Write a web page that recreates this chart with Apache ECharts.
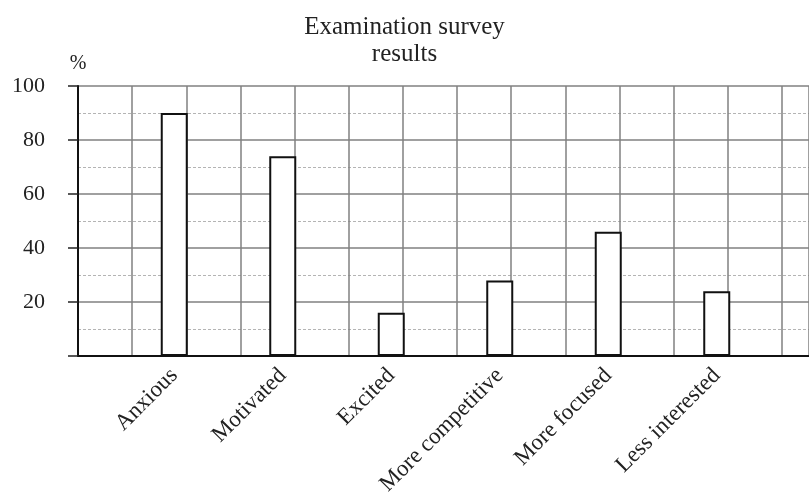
<!DOCTYPE html>
<html>
<head>
<meta charset="utf-8">
<script src="https://cdn.jsdelivr.net/npm/echarts@6/dist/echarts.min.js"></script>
<style>
html,body{margin:0;padding:0;background:#fff;}
#chart{width:809px;height:501px;}
</style>
</head>
<body>
<div id="chart"></div>
<script>
const categories = ['Anxious', 'Motivated', 'Excited', 'More competitive', 'More focused', 'Less interested'];
const values = [90, 74, 16, 28, 46, 24];
const yTicks = [0, 20, 40, 60, 80, 100];
const titleText = 'Examination survey\nresults';
const yUnit = '%';

const serif = '"Liberation Serif", "DejaVu Serif", serif';
const chart = echarts.init(document.getElementById('chart'), null, {renderer: 'canvas'});
chart.setOption({
  backgroundColor: '#fff',
  animation: false,
  title: {
    text: titleText,
    left: 'center',
    top: 9,
    textStyle: {fontFamily: serif, fontWeight: 'normal', fontSize: 25, color: '#222', lineHeight: 27}
  },
  grid: [
    {left: 78, right: 0, top: 86, bottom: 145},
    {left: 120, right: 38, top: 86, bottom: 145}
  ],
  xAxis: [
    {
      type: 'value', gridIndex: 0, min: 0, max: 13.5, interval: 1,
      axisLine: {show: true, onZero: false, lineStyle: {color: '#111', width: 2}},
      axisTick: {show: false}, axisLabel: {show: false},
      splitLine: {show: true, lineStyle: {color: '#808080', width: 1.5}}
    },
    {
      type: 'category', gridIndex: 1, data: categories,
      axisLine: {show: false}, axisTick: {show: false},
      axisLabel: {rotate: 45, margin: 16, interval: 0, fontFamily: serif, fontSize: 23, color: '#222'},
      splitLine: {show: false}
    }
  ],
  yAxis: [
    {
      type: 'value', gridIndex: 0, min: yTicks[0], max: yTicks[yTicks.length - 1], interval: 20,
      name: yUnit, nameLocation: 'end', nameGap: 12,
      nameTextStyle: {fontFamily: serif, fontSize: 20, color: '#222', align: 'center'},
      axisLine: {show: true, lineStyle: {color: '#111', width: 2}},
      axisTick: {show: true, inside: false, length: 10, lineStyle: {color: '#222', width: 1.5}},
      axisLabel: {margin: 33, fontFamily: serif, fontSize: 22, color: '#222',
        formatter: v => (v === 0 ? '' : String(v))},
      splitLine: {show: true, lineStyle: {color: '#808080', width: 1.5}},
      minorTick: {show: false, splitNumber: 2},
      minorSplitLine: {show: true, lineStyle: {color: '#b4b4b4', width: 1, type: [3, 2]}}
    },
    {
      type: 'value', gridIndex: 1, min: yTicks[0], max: yTicks[yTicks.length - 1],
      show: false, splitLine: {show: false}
    }
  ],
  series: [{
    type: 'bar', xAxisIndex: 1, yAxisIndex: 1, data: values, barWidth: 27,
    itemStyle: {color: '#fff', borderColor: '#111', borderWidth: 2},
    z: 5
  }]
});
</script>
</body>
</html>
